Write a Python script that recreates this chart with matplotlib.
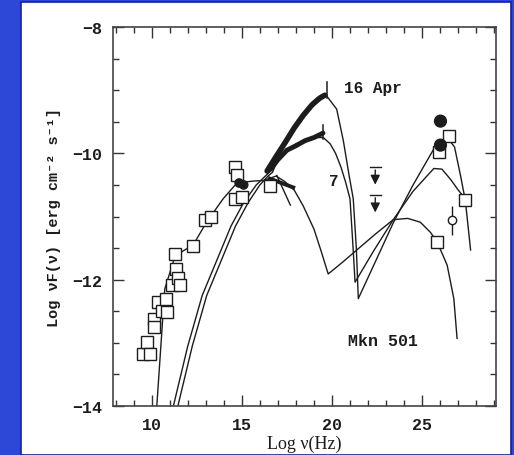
import matplotlib
matplotlib.use('Agg')
import matplotlib.pyplot as plt
from matplotlib.patches import Rectangle
from matplotlib.ticker import MultipleLocator

monoFont = ['Liberation Mono', 'DejaVu Sans Mono']
ink = '#1c1c1c'

# open squares: radio / optical / gamma data (log nu, log nuFnu)
sq_x = [9.5, 9.72, 9.91, 10.13, 10.13, 10.37, 10.56, 10.78, 10.83, 11.11, 11.28, 11.37, 11.46, 11.57,
        12.31, 12.96, 13.28, 14.63, 14.72, 14.63, 15.0, 16.57, 25.93, 26.48, 25.83, 27.4]
sq_y = [-13.17, -12.99, -13.17, -12.62, -12.75, -12.35, -12.49, -12.3, -12.51, -12.09, -11.6, -11.83, -11.98, -12.09,
        -11.46, -11.06, -11.01, -10.22, -10.35, -10.72, -10.69, -10.51, -9.98, -9.72, -11.4, -10.74]
# filled circles
dot_x = [14.85, 15.1, 26.02, 26.02]
dot_y = [-10.47, -10.5, -9.49, -9.87]
dot_s = [6, 6, 8.5, 8.5]
# open circle with error bar
oc_x, oc_y = 26.67, -11.06
oc_err = [[0.24], [0.22]]
# upper limits
ul_x = [22.4, 22.4]
ul_y = [-10.22, -10.66]

# model curves
low_x = [10.28, 10.72, 11.3, 12.3, 13.04, 13.96, 14.6, 15.0, 15.6, 16.2, 16.9, 17.4, 17.9, 18.4, 19.0, 19.4,
         19.79, 20.6, 21.5, 22.4, 23.4, 24.2, 24.9, 25.46, 25.83, 26.39, 26.76, 26.94]
low_y = [-14.0, -12.15, -11.62, -11.45, -11.09, -10.72, -10.51, -10.46, -10.44, -10.43, -10.36, -10.45, -10.58,
         -10.83, -11.2, -11.55, -11.91, -11.72, -11.5, -11.28, -11.05, -11.03, -11.09, -11.25, -11.4, -11.77, -12.3, -12.93]

apr7_x = [11.2, 12.0, 12.8, 13.6, 14.4, 15.1, 15.8, 16.3, 16.6, 17.0, 17.48, 18.0, 18.6, 19.1, 19.52, 19.9,
          20.2, 20.5, 20.75, 21.0, 21.15, 21.28, 22.3, 23.4, 24.5, 25.65, 26.1, 26.6, 27.0, 27.4]
apr7_y = [-14.0, -13.05, -12.25, -11.7, -11.15, -10.78, -10.5, -10.36, -10.28, -10.12, -9.95, -9.85, -9.78, -9.75,
          -9.75, -9.85, -10.0, -10.22, -10.45, -10.72, -11.4, -12.04, -11.55, -11.05, -10.6, -10.24, -10.25, -10.42, -10.58, -10.72]

apr16_x = [11.45, 12.25, 13.05, 13.85, 14.65, 15.35, 16.0, 16.45, 16.7, 17.3, 18.2, 19.15, 19.7, 20.26, 20.63, 20.95,
           21.18, 21.35, 21.46, 22.4, 23.4, 24.5, 25.65, 26.1, 26.45, 26.8, 27.13, 27.4, 27.69]
apr16_y = [-14.0, -13.05, -12.25, -11.7, -11.15, -10.78, -10.5, -10.36, -10.3, -9.88, -9.46, -9.17, -9.09, -9.3,
           -9.8, -10.35, -10.72, -11.5, -12.3, -11.72, -11.1, -10.5, -9.93, -9.8, -9.77, -9.9, -10.35, -10.75, -11.53]

# X-ray spectra (dense data drawn thick)
x16_x = [16.4, 16.9, 17.4, 17.9, 18.4, 18.9, 19.3, 19.6]
x16_y = [-10.28, -10.05, -9.83, -9.6, -9.4, -9.23, -9.13, -9.08]
x7_x = [16.6, 17.0, 17.5, 18.0, 18.5, 19.0, 19.5]
x7_y = [-10.25, -10.1, -9.95, -9.88, -9.8, -9.75, -9.68]
xlow_x = [16.55, 17.2, 17.85]
xlow_y = [-10.4, -10.47, -10.54]
xsteep_x = [16.94, 17.69]
xsteep_y = [-10.35, -10.82]

fig = plt.figure(figsize=(5.14, 4.56), dpi=100)
fig.patch.set_facecolor('#2d48d6')
fig.patches.append(Rectangle((21 / 514, 0), 490 / 514, 453 / 456, transform=fig.transFigure,
                             facecolor='white', edgecolor='#1a1f9a', lw=1.2, zorder=-10))

ax = fig.add_axes([113 / 514, 49 / 456, 383 / 514, 379 / 456])
ax.set_facecolor('none')
ax.set_zorder(5)

ax.plot(low_x, low_y, '-', color=ink, lw=1.0)
ax.plot(apr7_x, apr7_y, '-', color=ink, lw=1.0)
ax.plot(apr16_x, apr16_y, '-', color=ink, lw=1.0)

ax.plot(x16_x, x16_y, '-', color=ink, lw=4.0, solid_capstyle='round')
ax.plot(x7_x, x7_y, '-', color=ink, lw=3.5, solid_capstyle='round')
ax.plot(xlow_x, xlow_y, '-', color=ink, lw=2.8)
ax.plot(xsteep_x, xsteep_y, '-', color=ink, lw=1.0)
ax.plot([19.7, 19.7], [-8.87, -9.12], '-', color=ink, lw=1.1)
ax.plot([19.52, 19.52], [-9.55, -9.78], '-', color=ink, lw=1.1)

ax.plot(sq_x, sq_y, 's', ms=8.5, mfc='white', mec=ink, mew=1.0, ls='none')
ax.scatter(dot_x, dot_y, s=[v ** 2 for v in dot_s], color=ink, zorder=3)
ax.errorbar([oc_x], [oc_y], yerr=oc_err, fmt='o', ms=6, mfc='white', mec=ink, mew=1.0, ecolor=ink, elinewidth=1.0)

for ux, uy in zip(ul_x, ul_y):
    ax.plot([ux - 0.3, ux + 0.3], [uy, uy], '-', color=ink, lw=1.0)
    ax.annotate('', xy=(ux, uy - 0.32), xytext=(ux, uy),
                arrowprops=dict(arrowstyle='-|>', color=ink, lw=1.0, mutation_scale=14))

ax.text(20.65, -8.95, '16 Apr', family=monoFont, fontsize=11.5, weight='bold', color=ink, va='center')
ax.text(19.85, -10.43, '7', family=monoFont, fontsize=11.5, weight='bold', color=ink, va='center')
ax.text(20.9, -12.96, 'Mkn 501', family=monoFont, fontsize=12, weight='bold', color=ink, va='center')

ax.set_xlim(7.85, 29.1)
ax.set_ylim(-14, -8)
ax.xaxis.set_major_locator(MultipleLocator(5))
ax.xaxis.set_minor_locator(MultipleLocator(1))
ax.yaxis.set_major_locator(MultipleLocator(2))
ax.yaxis.set_minor_locator(MultipleLocator(0.5))
ax.tick_params(which='both', direction='in', top=True, right=True, colors='#333333', width=1.0)
ax.tick_params(which='major', length=8, labelsize=12, pad=8)
ax.tick_params(which='minor', length=4)
for lab in ax.get_xticklabels() + ax.get_yticklabels():
    lab.set_family(monoFont)
    lab.set_weight('bold')
    lab.set_color(ink)
for sp in ax.spines.values():
    sp.set_color('#444444')
    sp.set_linewidth(1.2)

ax.set_xlabel('Log \u03bd(Hz)', family=['Liberation Serif', 'DejaVu Serif'], fontsize=13, color=ink, labelpad=2)
ax.set_ylabel('Log \u03bdF(\u03bd) [erg cm\u207b\u00b2 s\u207b\u00b9]', family=monoFont, fontsize=11, weight='bold',
              color=ink, labelpad=8)

fig.savefig('out.png', dpi=100)
